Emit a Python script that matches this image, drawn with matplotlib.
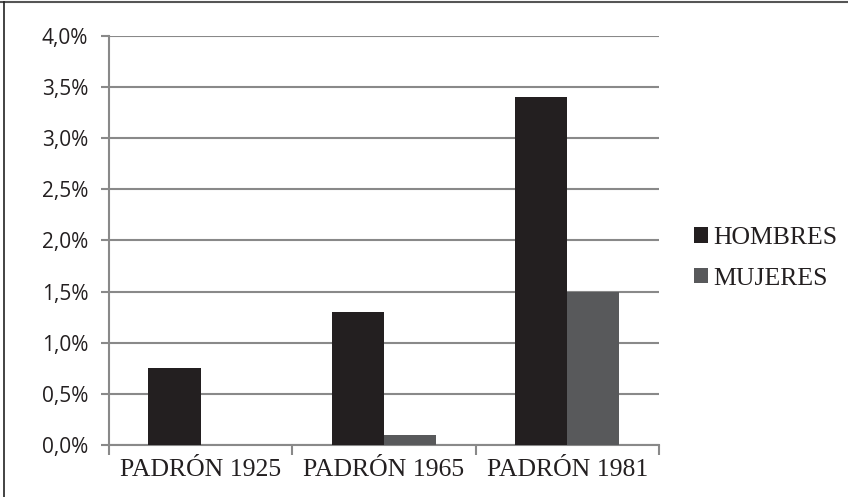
import matplotlib
matplotlib.use("Agg")
import matplotlib.pyplot as plt
import numpy as np
from matplotlib.patches import Patch
from matplotlib.lines import Line2D
from matplotlib.ticker import FuncFormatter, MultipleLocator

categories = ["PADRÓN 1925", "PADRÓN 1965", "PADRÓN 1981"]
hombres = [0.75, 1.3, 3.4]
mujeres = [0.0, 0.1, 1.5]
series_names = ["HOMBRES", "MUJERES"]
colors = ["#231f20", "#58595b"]

fig = plt.figure(figsize=(8.48, 4.97), dpi=100)
ax = fig.add_axes([0.1285, 0.1046, 0.777 - 0.1285, 0.9276 - 0.1046])

x = np.arange(len(categories))
w = 0.285
ax.bar(x - w / 2, hombres, width=w, color=colors[0], zorder=3)
ax.bar(x + w / 2, mujeres, width=w, color=colors[1], zorder=3)

ax.set_xlim(-0.5, len(categories) - 0.5)
ax.set_ylim(0, 4.0)
ax.yaxis.set_major_locator(MultipleLocator(0.5))
ax.yaxis.set_major_formatter(FuncFormatter(lambda v, p: f"{v:.1f}%".replace(".", ",")))
grid_c = "#898989"
ax.grid(axis="y", color=grid_c, linewidth=1.5, zorder=0)
ax.set_axisbelow(True)
for s in ["top", "right"]:
    ax.spines[s].set_visible(False)
for s in ["left", "bottom"]:
    ax.spines[s].set_color(grid_c)
    ax.spines[s].set_linewidth(1.5)

ax.set_xticks(x)
ax.set_xticklabels(categories, family="Liberation Serif", fontsize=18.5, color="#231f20")
ax.set_xticks(np.arange(len(categories) + 1) - 0.5, minor=True)
ax.tick_params(axis="x", which="major", length=0, pad=10)
ax.tick_params(axis="x", which="minor", length=7, width=1.5, color=grid_c, direction="out")
ax.tick_params(axis="y", length=6, width=1.5, color=grid_c, direction="out", pad=9,
               labelsize=15, labelcolor="#231f20")
for lab in ax.get_yticklabels():
    lab.set_family("Open Sans")

handles = [Patch(facecolor=c, edgecolor="none") for c in colors]
fig.legend(handles, series_names, loc="center left", bbox_to_anchor=(0.818, 0.48),
           frameon=False, prop={"family": "Liberation Serif", "size": 18.5},
           handlelength=0.55, handleheight=0.55, handletextpad=0.2, labelspacing=0.72,
           borderaxespad=0, borderpad=0, labelcolor="#231f20")

# figure border (top and left)
fig.add_artist(Line2D([0, 1], [0.995, 0.995], transform=fig.transFigure, color="#555555", linewidth=1.5))
fig.add_artist(Line2D([0.005, 0.005], [0, 0.995], transform=fig.transFigure, color="#222222", linewidth=1.2))

fig.savefig("out.png", dpi=100)
